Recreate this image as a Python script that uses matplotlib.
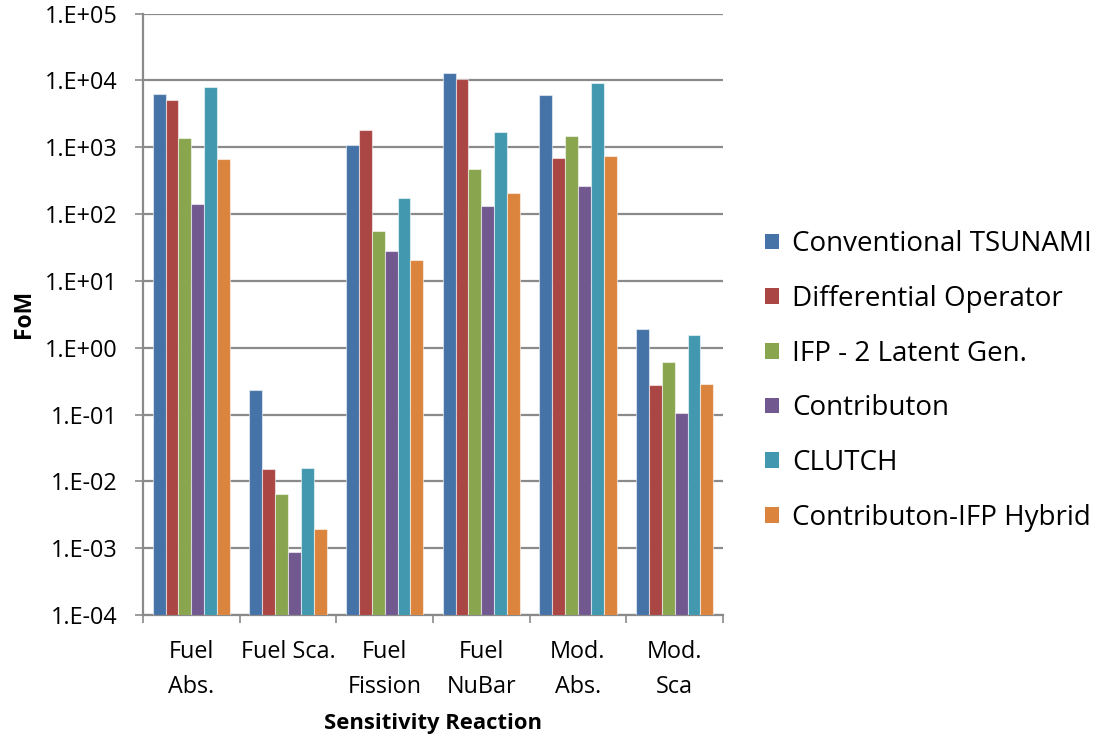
import numpy as np
import matplotlib
matplotlib.use("Agg")
import matplotlib.pyplot as plt
from matplotlib.ticker import FixedLocator, FuncFormatter, NullFormatter
from matplotlib.patches import Patch

categories = ["Fuel\nAbs.", "Fuel Sca.", "Fuel\nFission", "Fuel\nNuBar", "Mod.\nAbs.", "Mod.\nSca"]
series_names = ["Conventional TSUNAMI", "Differential Operator", "IFP - 2 Latent Gen.",
                "Contributon", "CLUTCH", "Contributon-IFP Hybrid"]

conventional = [6.2e3, 0.235, 1.08e3, 1.28e4, 6.07e3, 1.92]
differential = [5.0e3, 0.0152, 1.83e3, 1.06e4, 690, 0.279]
ifp_2gen = [1.35e3, 0.0064, 56, 473, 1.49e3, 0.617]
contributon = [143, 7.7e-4, 28.3, 134, 260, 0.105]
clutch = [7.9e3, 0.0158, 176, 1.71e3, 9.17e3, 1.57]
hybrid = [668, 1.82e-3, 20.3, 207, 731, 0.286]

series_values = [conventional, differential, ifp_2gen, contributon, clutch, hybrid]
colors = ["#4572A7", "#AA4643", "#89A54E", "#71588F", "#4198AF", "#DB843D"]

plt.rcParams["font.family"] = ["Open Sans", "DejaVu Sans"]

fig = plt.figure(figsize=(11.04, 7.38), dpi=100)
ax = fig.add_axes([143 / 1104, 1 - 615 / 738, 580 / 1104, (615 - 13.5) / 738])

n_series = len(series_values)
bar_w = 1.0 / (n_series + 1.5)
x = np.arange(len(categories))
for i, (vals, col) in enumerate(zip(series_values, colors)):
    offs = (i - (n_series - 1) / 2) * bar_w
    ax.bar(x + offs, vals, width=bar_w, bottom=1e-4, color=col,
           edgecolor=(1, 1, 1, 0.55), linewidth=0.8, zorder=3,
           label=series_names[i])

ax.set_yscale("log")
ax.set_ylim(1e-4, 1e5)
ax.set_xlim(-0.5, len(categories) - 0.5)

decades = [10.0 ** k for k in range(-4, 6)]
ax.yaxis.set_major_locator(FixedLocator(decades))
ax.yaxis.set_minor_locator(FixedLocator([]))
ax.yaxis.set_major_formatter(FuncFormatter(lambda v, p: f"1.E{int(round(np.log10(v))):+03d}"))
ax.yaxis.grid(True, color="#8A8A8A", linewidth=1.6, zorder=0)
ax.set_axisbelow(True)

ax.xaxis.set_major_locator(FixedLocator(np.arange(len(categories) + 1) - 0.5))
ax.xaxis.set_major_formatter(NullFormatter())
ax.xaxis.set_minor_locator(FixedLocator(x))
ax.xaxis.set_minor_formatter(FuncFormatter(lambda v, p: categories[int(round(v))]))
ax.tick_params(axis="x", which="major", length=6, width=1.2, color="#8A8A8A", direction="out")
ax.tick_params(axis="x", which="minor", length=0, pad=18, labelsize=16.8)
ax.tick_params(axis="y", which="major", length=6, width=1.2, color="#8A8A8A",
               labelsize=16.8, pad=12)
for lab in ax.get_xticklabels(minor=True):
    lab.set_verticalalignment("top")
    lab.set_linespacing(1.6)

for side in ("top", "right"):
    ax.spines[side].set_visible(False)
for side in ("left", "bottom"):
    ax.spines[side].set_color("#8A8A8A")
    ax.spines[side].set_linewidth(1.6)

ax.set_ylabel("FoM", fontsize=16.5, fontweight="bold", labelpad=7)
ax.set_xlabel("Sensitivity Reaction", fontsize=15.8, fontweight="bold", labelpad=10)

handles = [Patch(facecolor=c, edgecolor="none") for c in colors]
leg = fig.legend(handles, series_names, loc="center left",
                 bbox_to_anchor=(740 / 1104, 1 - 381 / 738), frameon=False,
                 fontsize=20, handlelength=0.5, handleheight=0.5,
                 handletextpad=0.47, labelspacing=0.96)

fig.savefig("out.png", dpi=100)
